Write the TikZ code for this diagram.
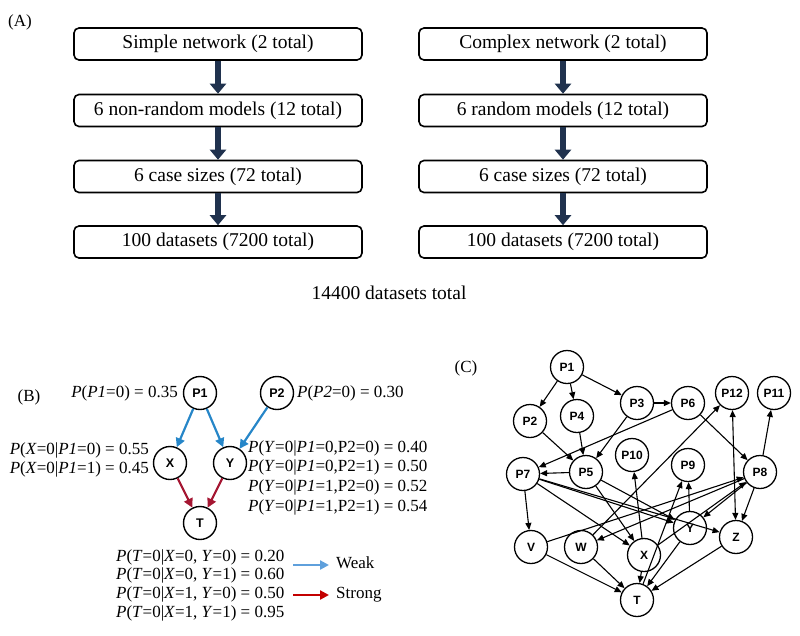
\documentclass[tikz,border=0pt]{standalone}
\usepackage{fontspec}
\setmainfont{Liberation Serif}
\newfontfamily\nodefont{Liberation Sans}
\usetikzlibrary{arrows.meta}
\newcommand\itx[1]{\textit{#1}}
\definecolor{flowcol}{RGB}{32,50,78}
\definecolor{weakcol}{RGB}{38,134,200}
\definecolor{weaklegend}{RGB}{95,160,220}
\definecolor{strongcol}{RGB}{165,22,50}
\definecolor{stronglegend}{RGB}{195,0,0}
\begin{document}
\begin{tikzpicture}[x=1pt,y=-1pt,
  box/.style={draw, line width=1.6pt, rounded corners=5pt, minimum width=288pt, minimum height=32pt, inner sep=0pt, font=\fontsize{19.5}{22}\selectfont},
  flowarrow/.style={draw=flowcol, line width=6pt, -{Triangle[length=10pt,width=16pt]}},
  lbl/.style={font=\fontsize{17}{19}\selectfont, inner sep=0pt},
  formula/.style={font=\fontsize{17}{19}\selectfont, inner sep=0pt},
  bnode/.style={circle, draw, line width=1.4pt, minimum size=33pt, inner sep=0pt, font=\nodefont\bfseries\fontsize{12.5}{13}\selectfont},
  cnode/.style={circle, draw, line width=1.3pt, minimum size=33pt, inner sep=0pt, font=\nodefont\bfseries\fontsize{12}{13}\selectfont},
  weak/.style={draw=weakcol, line width=2.2pt, -{Triangle[length=9pt,width=9pt]}},
  strong/.style={draw=strongcol, line width=2.2pt, -{Triangle[length=9pt,width=9pt]}},
  cedge/.style={draw, line width=1.1pt, -{Triangle[length=7pt,width=6pt]}},
  cedgeb/.style={draw, line width=1.1pt, {Triangle[length=7pt,width=6pt]}-{Triangle[length=7pt,width=6pt]}}
]
\useasboundingbox (0,0) rectangle (800,635);

% ---------- (A) ----------
\node[lbl] (labA) at (20,22) {(A)};
\node[box] (L1) at (218,44) {Simple network (2 total)};
\node[box] (L2) at (218,110.5) {6 non-random models (12 total)};
\node[box] (L3) at (218,176.5) {6 case sizes (72 total)};
\node[box] (L4) at (218,242) {100 datasets (7200 total)};
\node[box] (R1) at (563,44) {Complex network (2 total)};
\node[box] (R2) at (563,110.5) {6 random models (12 total)};
\node[box] (R3) at (563,176.5) {6 case sizes (72 total)};
\node[box] (R4) at (563,242) {100 datasets (7200 total)};
\draw[flowarrow] (L1.south) -- (L2.north);
\draw[flowarrow] (L2.south) -- (L3.north);
\draw[flowarrow] (L3.south) -- (L4.north);
\draw[flowarrow] (R1.south) -- (R2.north);
\draw[flowarrow] (R2.south) -- (R3.north);
\draw[flowarrow] (R3.south) -- (R4.north);
\node[inner sep=0pt, font=\fontsize{19.5}{22}\selectfont] (tot) at (389,293) {14400 datasets total};

% ---------- (B) ----------
\node[lbl] (labB) at (29,397) {(B)};
\node[bnode] (bP1) at (200,393) {P1};
\node[bnode] (bP2) at (277,393) {P2};
\node[bnode] (bX) at (170,463) {X};
\node[bnode] (bY) at (230,463) {Y};
\node[bnode] (bT) at (200,523) {T};
\draw[weak] (bP1) -- (bX);
\draw[weak] (bP1) -- (bY);
\draw[weak] (bP2) -- (bY);
\draw[strong] (bX) -- (bT);
\draw[strong] (bY) -- (bT);

\node[formula, anchor=east] (fP1) at (178,393) {\itx{P}(\itx{P1}=0) = 0.35};
\node[formula, anchor=west] (fP2) at (297,393) {\itx{P}(\itx{P2}=0) = 0.30};
\node[formula, anchor=east] (fX1) at (149,450) {\itx{P}(\itx{X}=0|\itx{P1}=0) = 0.55};
\node[formula, anchor=east] (fX2) at (149,469) {\itx{P}(\itx{X}=0|\itx{P1}=1) = 0.45};
\node[formula, anchor=west] (fY1) at (248,448) {\itx{P}(\itx{Y}=0|\itx{P1}=0,P2=0) = 0.40};
\node[formula, anchor=west] (fY2) at (248,467.5) {\itx{P}(\itx{Y}=0|\itx{P1}=0,P2=1) = 0.50};
\node[formula, anchor=west] (fY3) at (248,487) {\itx{P}(\itx{Y}=0|\itx{P1}=1,P2=0) = 0.52};
\node[formula, anchor=west] (fY4) at (248,507) {\itx{P}(\itx{Y}=0|\itx{P1}=1,P2=1) = 0.54};
\node[formula, anchor=west] (fT1) at (116,557) {\itx{P}(\itx{T}=0|\itx{X}=0, \itx{Y}=0) = 0.20};
\node[formula, anchor=west] (fT2) at (116,575.5) {\itx{P}(\itx{T}=0|\itx{X}=0, \itx{Y}=1) = 0.60};
\node[formula, anchor=west] (fT3) at (116,594.5) {\itx{P}(\itx{T}=0|\itx{X}=1, \itx{Y}=0) = 0.50};
\node[formula, anchor=west] (fT4) at (116,613) {\itx{P}(\itx{T}=0|\itx{X}=1, \itx{Y}=1) = 0.95};

\coordinate (lw1) at (293,565);
\coordinate (lw2) at (329,565);
\coordinate (ls1) at (293,595);
\coordinate (ls2) at (329,595);
\draw[draw=weaklegend, line width=2.2pt, -{Triangle[length=9pt,width=9pt]}] (lw1) -- (lw2);
\draw[draw=stronglegend, line width=2.2pt, -{Triangle[length=9pt,width=9pt]}] (ls1) -- (ls2);
\node[formula, anchor=west] (weakt) at (336,563) {Weak};
\node[formula, anchor=west] (strongt) at (336,595) {Strong};

% ---------- (C) ----------
\node[lbl] (labC) at (466,368) {(C)};
\node[cnode] (P1) at (567,367) {P1};
\node[cnode] (P2) at (530,421) {P2};
\node[cnode] (P4) at (577,416) {P4};
\node[cnode] (P3) at (637,403) {P3};
\node[cnode] (P6) at (688,403) {P6};
\node[cnode] (P12) at (732,393) {P12};
\node[cnode] (P11) at (774,393) {P11};
\node[cnode] (P10) at (632,455) {P10};
\node[cnode] (P9) at (688,465) {P9};
\node[cnode] (P8) at (760,472) {P8};
\node[cnode] (P7) at (523,474) {P7};
\node[cnode] (P5) at (586,472) {P5};
\node[cnode] (V) at (531,547) {V};
\node[cnode] (W) at (581,547) {W};
\node[cnode] (X) at (644,555) {X};
\node[cnode] (Y) at (690,528) {Y};
\node[cnode] (Z) at (736,537) {Z};
\node[cnode] (T) at (637,600) {T};

\draw[cedge] (P1) -- (P2);
\draw[cedge] (P1) -- (P4);
\draw[cedge] (P1) -- (P3);
\draw[cedge] (P3) -- (P6);
\draw[cedge] (P3) -- (P5);
\draw[cedge] (P4) -- (P5);
\draw[cedge] (P2) -- (P5);
\draw[cedge] (P6) -- (P7);
\draw[cedge] (P6) -- (P8);
\draw[cedge] (P8) -- (P11);
\draw[cedge] (P5) -- (P7);
\draw[cedge] (W) -- (P12);
\draw[cedgeb] (P12) -- (Z);
\draw[cedge] (P8) -- (Y);
\draw[cedge] (P8) -- (Z);
\draw[cedge] (P8) -- (W);
\draw[cedge] (V) -- (P8);
\draw[cedge] (X) -- (P8);
\draw[cedge] (X) -- (P10);
\draw[cedge] (P7) -- (V);
\draw[cedge] (P7) -- (X);
\draw[cedge] (P5) -- (X);
\draw[cedge] (P7) -- (Y);
\draw[cedge] (P7) -- (Z);
\draw[cedge] (P5) -- (Y);
\draw[cedge] (Y) -- (P9);
\draw[cedge] (T) -- (P9);
\draw[cedge] (V) -- (T);
\draw[cedge] (W) -- (T);
\draw[cedge] (X) -- (T);
\draw[cedge] (Y) -- (T);
\draw[cedge] (Z) -- (T);
\end{tikzpicture}
\end{document}
